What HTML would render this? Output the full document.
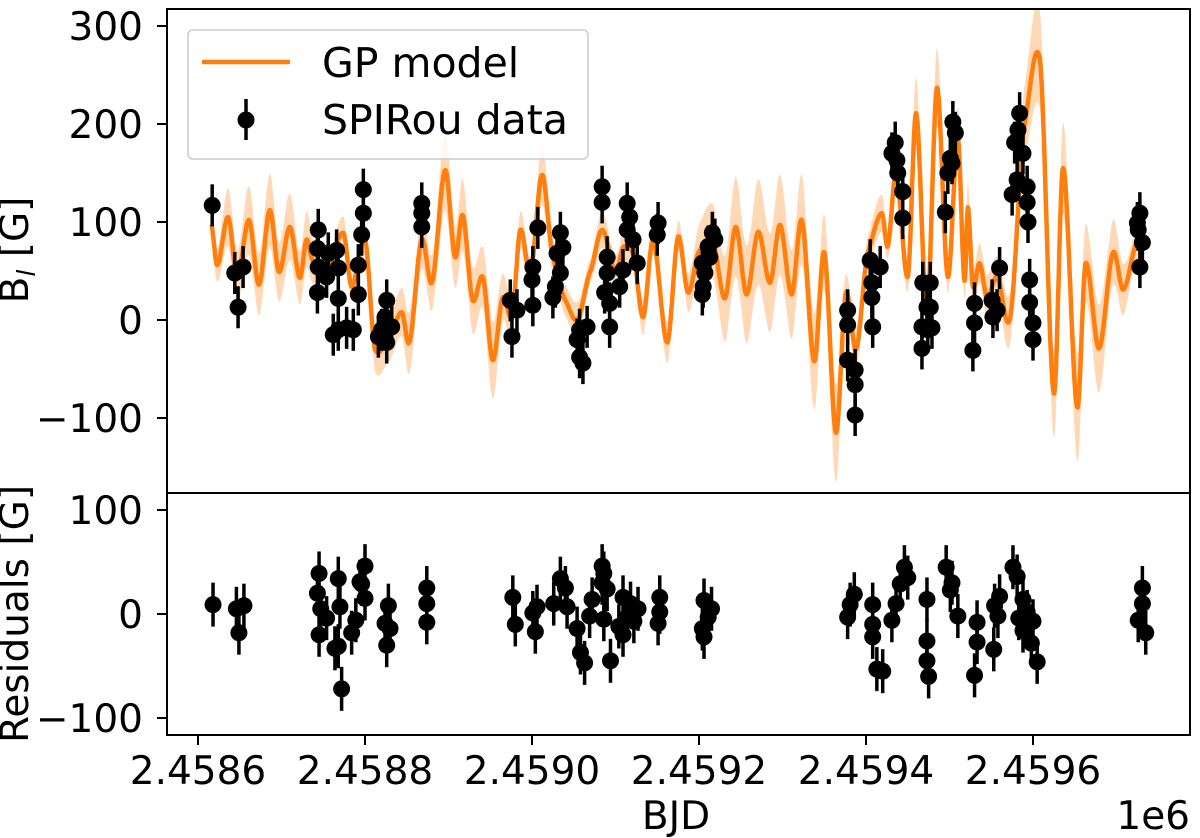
<!DOCTYPE html>
<html><head><meta charset="utf-8"><style>
body{margin:0;background:#fff;}
svg{display:block;font-family:"DejaVu Sans","Liberation Sans",sans-serif;}
</style></head><body>
<svg id="chart" width="1200" height="838" viewBox="0 0 1200 838" xmlns="http://www.w3.org/2000/svg">
<g id="top-panel"></g>
<g id="bottom-panel"></g>
<g id="axes"></g>
<text transform="translate(28,250) rotate(-90)" text-anchor="middle" font-size="39" fill="#000">B<tspan font-size="25" font-style="italic" dy="7">l</tspan><tspan dy="-7"> [G]</tspan></text>
<text transform="translate(28,614) rotate(-90)" text-anchor="middle" font-size="39" fill="#000">Residuals [G]</text>
<text x="676" y="829" text-anchor="middle" font-size="39" fill="#000">BJD</text>
<text x="1190" y="829" text-anchor="end" font-size="39" fill="#000">1e6</text>
<g>
<rect x="188" y="30" width="400" height="129" rx="5" fill="#fff" fill-opacity="0.8" stroke="#ccc" stroke-width="1.5"/>
<line x1="202" y1="62" x2="290" y2="62" stroke="#ff7f0e" stroke-width="4.5"/>
<text x="322" y="77" font-size="41" fill="#000">GP model</text>
<line x1="246" y1="99" x2="246" y2="140" stroke="#000" stroke-width="3.5"/>
<circle cx="246" cy="120" r="8.5" fill="#000"/>
<text x="322" y="134" font-size="41" fill="#000">SPIRou data</text>
</g>
</svg>
<script>
// days relative to BJD 2458600
const curveDays=[16,23,36,47,61,73,86,97,110,122,130,137,152,174,184,200,212,228,244,253,268,280,296,308,317,329,341,353,365,376,386,398,412,425,440,454,470,484,500,510,521,533,545,562,575,587,600,616,631,644,657,671,685,697,711,723,738,750,764,776,788,802,819,826,836,850,860,873,885,898,910,918,922,928,936,945,957,972,990,1008,1025,1036,1053,1063,1079,1096,1108,1125];
const curveVals=[97,56,105,44,102,36,112,49,95,43,82,61,45,89,34,82,-30,-20,8,-23,82,38,153,64,107,20,44,-41,23,3,92,48,148,64,20,0,50,92,50,75,68,3,82,-23,85,28,70,82,22,95,26,90,38,97,26,102,-42,69,-115,28,-30,68,109,75,150,44,211,7,237,44,185,40,115,34,58,23,44,0,200,267,-75,155,-89,58,-29,69,31,80];
const sigmaDays=[-10,15,40,70,100,130,160,200,230,260,290,320,350,380,410,440,470,500,540,580,600,640,680,720,760,780,800,830,870,900,940,980,1010,1040,1060,1080,1100,1120,1140];
const sigmaVals=[10,12,25,30,30,25,12,12,15,25,28,30,30,12,20,12,12,15,12,12,25,45,50,40,35,12,15,10,20,15,20,20,25,35,40,35,30,15,10];
const dataDays=[17,44,54,48,144,143,144,143,156,154,166,168,168,162,168,198,198,196,192,192,186,178,226,224,220,226,216,232,268,268,268,374,382,376,401,400,401,407,434,430,434,428,425,437,457,466,457,461,454,484,484,490,490,493,493,487,514,517,514,521,526,509,505,551,550,616,611,604,607,605,604,619,613,778,778,778,787,787,787,805,807,807,808,817,835,837,838,844,844,831,868,873,867,867,874,904,907,901,898,895,903,877,877,879,930,930,928,951,957,952,960,984,982,978,988,981,975,993,993,994,996,996,1000,1000,1128,1126,1131,1128,1125];
const dataVals=[117,48,54,13,92,73,54,28,68,44,71,53,22,-15,-10,133,109,87,56,26,-10,-8,20,3,-10,-23,-17,-7,119,109,95,20,10,-17,54,41,15,94,89,68,48,34,23,74,-10,-7,-38,-44,-20,136,120,64,48,17,-7,28,119,105,92,82,58,51,34,99,87,89,75,58,48,34,26,82,64,10,-5,-41,-51,-66,-97,61,38,23,-7,54,181,163,150,131,104,170,38,13,-7,-29,-10,202,191,165,150,110,160,38,13,-8,17,-3,-31,20,10,3,53,211,194,181,170,143,128,136,120,100,41,18,-3,-20,109,92,79,54,99];
const resDays=[18,46,55,49,145,143,147,145,154,168,170,168,164,172,200,196,200,189,184,194,228,224,230,226,274,274,274,377,380,404,401,406,434,440,442,426,463,458,454,469,472,484,484,486,490,494,486,509,514,518,522,509,527,504,553,553,551,606,611,604,615,606,781,778,786,808,808,808,813,820,846,841,836,831,850,873,873,873,875,896,901,910,903,933,933,930,953,958,960,954,976,981,988,993,988,998,1005,1000,983,1131,1131,1126,1135];
const resVals=[9,5,8,-18,39,20,5,-20,-4,34,7,-31,-33,-72,46,29,15,-6,-18,31,8,-9,-14,-30,25,10,-8,16,-10,-17,1,7,34,25,7,10,-47,-37,-14,-2,14,46,30,39,24,-45,-5,16,-3,10,-7,-20,5,-12,16,2,-9,13,-3,-14,5,-22,9,-3,19,9,-10,-22,-53,-55,45,29,10,-6,35,14,-26,-45,-60,45,23,-2,30,-8,-27,-59,-34,-2,17,8,45,36,14,2,-16,-28,-46,-7,-4,25,10,-6,-18];
const topYTicks=[300,200,100,0,-100];
const botYTicks=[100,0,-100];
const xTicks=[2458600,2458800,2459000,2459200,2459400,2459600];
const xTickLabels=["2.4586","2.4588","2.4590","2.4592","2.4594","2.4596"];

const NS="http://www.w3.org/2000/svg";
const L=167,R=1190,T=9,MID=493,B=735;
const xs=d=>198+d*0.835;
const yTop=v=>320-v*0.98;
const yBot=v=>614-v*1.04;
function mk(tag,attrs,parent){const e=document.createElementNS(NS,tag);for(const k in attrs)e.setAttribute(k,attrs[k]);parent.appendChild(e);return e;}
const topG=document.getElementById('top-panel'),botG=document.getElementById('bottom-panel'),axG=document.getElementById('axes');

const defs=mk('defs',{},document.getElementById('chart'));
const c1=mk('clipPath',{id:'clipTop'},defs);mk('rect',{x:L,y:T,width:R-L,height:MID-T},c1);
const c2=mk('clipPath',{id:'clipBot'},defs);mk('rect',{x:L,y:MID,width:R-L,height:B-MID},c2);
topG.setAttribute('clip-path','url(#clipTop)');botG.setAttribute('clip-path','url(#clipBot)');

function curveAt(d){
  const n=curveDays.length;
  if(d<=curveDays[0])return curveVals[0];
  if(d>=curveDays[n-1])return curveVals[n-1];
  let i=0;while(curveDays[i+1]<d)i++;
  const p0=curveVals[Math.max(i-1,0)],p1=curveVals[i],p2=curveVals[i+1],p3=curveVals[Math.min(i+2,n-1)];
  const t=(d-curveDays[i])/(curveDays[i+1]-curveDays[i]);
  const m1=(p2-p0)/2*0.6,m2=(p3-p1)/2*0.6;
  const t2=t*t,t3=t2*t;
  return (2*t3-3*t2+1)*p1+(t3-2*t2+t)*m1+(-2*t3+3*t2)*p2+(t3-t2)*m2;
}
function sigmaAt(d){
  if(d<=sigmaDays[0])return sigmaVals[0];
  for(let i=0;i<sigmaDays.length-1;i++){if(d<=sigmaDays[i+1]){const t=(d-sigmaDays[i])/(sigmaDays[i+1]-sigmaDays[i]);return sigmaVals[i]+t*(sigmaVals[i+1]-sigmaVals[i]);}}
  return sigmaVals[sigmaVals.length-1];
}
const d0=curveDays[0],d1=curveDays[curveDays.length-1];
let up=[],dn=[],ln=[];
for(let d=d0;d<=d1;d+=0.5){const c=curveAt(d),s=sigmaAt(d);const ex=Math.abs(c-50)*0.12;up.push(xs(d).toFixed(1)+','+yTop(c+s+ex).toFixed(1));dn.push(xs(d).toFixed(1)+','+yTop(c-s-ex).toFixed(1));ln.push(xs(d).toFixed(1)+','+yTop(c).toFixed(1));}
const band=mk('polygon',{points:up.concat(dn.reverse()).join(' '),fill:'#ff7f0e','fill-opacity':'0.3',stroke:'none'},topG);


const line=mk('polyline',{points:ln.join(' '),fill:'none',stroke:'#ff7f0e','stroke-width':'4.5','stroke-linejoin':'round'},topG);



function point(parent,x,y,err,name){
  const g=mk('g',{},parent);
  
  
  mk('line',{x1:x,y1:y-err,x2:x,y2:y+err,stroke:'#000','stroke-width':'3.5'},g);
  mk('circle',{cx:x,cy:y,r:8.5,fill:'#000'},g);
}
for(let i=0;i<dataDays.length;i++)point(topG,xs(dataDays[i]),yTop(dataVals[i]),21,'data-point');
for(let i=0;i<resDays.length;i++)point(botG,xs(resDays[i]),yBot(resVals[i]),22,'residual-point');

const f1=mk('rect',{x:L,y:T,width:R-L,height:MID-T,fill:'none',stroke:'#000','stroke-width':'2'},axG);


const f2=mk('rect',{x:L,y:MID,width:R-L,height:B-MID,fill:'none',stroke:'#000','stroke-width':'2'},axG);



topYTicks.forEach(v=>{const y=yTop(v);
  mk('line',{x1:L-10,y1:y,x2:L,y2:y,stroke:'#000','stroke-width':'2'},axG);
  const t=mk('text',{x:L-24,y:y+14,'text-anchor':'end','font-size':'39',fill:'#000'},axG);
  t.textContent=(v<0?'\u2212':'')+Math.abs(v);
  
  });
botYTicks.forEach(v=>{const y=yBot(v);
  mk('line',{x1:L-10,y1:y,x2:L,y2:y,stroke:'#000','stroke-width':'2'},axG);
  const t=mk('text',{x:L-24,y:y+14,'text-anchor':'end','font-size':'39',fill:'#000'},axG);
  t.textContent=(v<0?'\u2212':'')+Math.abs(v);
  
  });
xTicks.forEach((v,i)=>{const x=xs(v-2458600);
  mk('line',{x1:x,y1:B,x2:x,y2:B+10,stroke:'#000','stroke-width':'2'},axG);
  const t=mk('text',{x:x,y:784,'text-anchor':'middle','font-size':'39',fill:'#000'},axG);
  t.textContent=xTickLabels[i];
  
  });
</script>
</body></html>
